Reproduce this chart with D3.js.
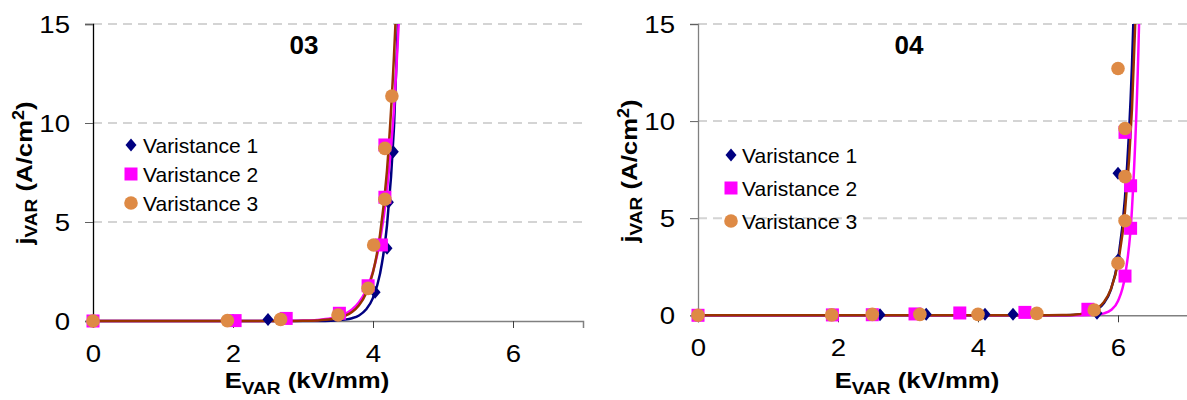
<!DOCTYPE html>
<html><head><meta charset="utf-8">
<script src="https://cdnjs.cloudflare.com/ajax/libs/d3/7.8.5/d3.min.js"></script>
<style>
html,body{margin:0;padding:0;background:#fff;}
svg{display:block;font-family:"Liberation Sans",Arial,sans-serif;}
</style></head>
<body>
<svg id="chart" width="1187" height="400"></svg>
<script>
// ---------- data ----------
const seriesNames = ["Varistance 1", "Varistance 2", "Varistance 3"];
const xTicks = [0, 2, 4, 6];
const yTicks = [0, 5, 10, 15];
const panelTitles = ["03", "04"];

// Panel 03 measured points
const e03_v1 = [0, 2.0, 2.50, 4.03, 4.20, 4.22, 4.29];
const j03_v1 = [0, 0.02, 0.08, 1.45, 3.67, 6.0, 8.55];
const e03_v2 = [0, 2.03, 2.76, 3.52, 3.93, 4.12, 4.17, 4.17];
const j03_v2 = [0, 0.02, 0.13, 0.39, 1.78, 3.84, 6.25, 8.89];
const e03_v3 = [0, 1.92, 2.68, 3.50, 3.93, 4.01, 4.17, 4.17, 4.27];
const j03_v3 = [0, 0.02, 0.08, 0.30, 1.65, 3.84, 6.15, 8.72, 11.36];

// Panel 03 trend curves
const fitE03_v1 = [0, 2.0, 3.0, 3.2, 3.4, 3.5, 3.6, 3.7, 3.8, 3.9, 4.0, 4.1, 4.2, 4.3, 4.38];
const fitJ03_v1 = [0, 0.0, 0.001, 0.004, 0.017, 0.034, 0.069, 0.14, 0.28, 0.58, 1.17, 2.38, 4.83, 9.8, 17.3];
const fitE03_v2 = [0, 2.0, 2.8, 3.0, 3.2, 3.4, 3.5, 3.6, 3.7, 3.8, 3.9, 4.0, 4.1, 4.2, 4.3, 4.4];
const fitJ03_v2 = [0, 0.0002, 0.0074, 0.0196, 0.052, 0.136, 0.22, 0.36, 0.58, 0.95, 1.54, 2.50, 4.05, 6.6, 10.7, 17.4];
const fitE03_v3 = [0, 2.0, 2.8, 3.0, 3.2, 3.4, 3.5, 3.6, 3.7, 3.8, 3.9, 4.0, 4.1, 4.2, 4.3, 4.34];
const fitJ03_v3 = [0, 0.001, 0.004, 0.009, 0.027, 0.083, 0.145, 0.26, 0.45, 0.79, 1.39, 2.46, 4.35, 7.6, 13.4, 16.5];

// Panel 04 measured points
const e04_v1 = [0, 2.6, 3.26, 4.10, 4.50, 5.70, 6.00, 6.00];
const j04_v1 = [0, 0.03, 0.05, 0.05, 0.05, 0.10, 2.85, 7.31];
const e04_v2 = [0, 1.92, 2.49, 3.10, 3.74, 4.67, 5.57, 6.10, 6.18, 6.18, 6.10];
const j04_v2 = [0, 0.02, 0.03, 0.07, 0.12, 0.15, 0.31, 2.02, 4.48, 6.67, 9.42];
const e04_v3 = [0, 1.91, 2.49, 3.17, 4.00, 4.84, 5.66, 6.00, 6.10, 6.10, 6.10, 6.00];
const j04_v3 = [0, 0.02, 0.05, 0.05, 0.05, 0.10, 0.27, 2.68, 4.87, 7.14, 9.62, 12.71];

// Panel 04 trend curves
const fitE04_v1 = [0, 4.5, 5.0, 5.2, 5.4, 5.5, 5.6, 5.7, 5.8, 5.9, 6.0, 6.1, 6.2, 6.24];
const fitJ04_v1 = [0, 0.0, 0.0015, 0.0068, 0.031, 0.065, 0.139, 0.295, 0.63, 1.34, 2.85, 6.06, 12.9, 17.4];
const fitE04_v2 = [0, 4.5, 5.0, 5.5, 5.6, 5.7, 5.8, 5.9, 6.0, 6.1, 6.2, 6.3, 6.32];
const fitJ04_v2 = [0, 0.0, 0.0, 0.005, 0.0136, 0.037, 0.10, 0.27, 0.74, 2.02, 5.49, 14.9, 18.2];
const fitE04_v3 = [0, 4.5, 5.0, 5.2, 5.4, 5.5, 5.6, 5.7, 5.8, 5.9, 6.0, 6.1, 6.2, 6.27];
const fitJ04_v3 = [0, 0.0001, 0.003, 0.011, 0.044, 0.087, 0.17, 0.345, 0.69, 1.36, 2.7, 5.36, 10.65, 17.3];

// ---------- styles ----------
const markerColors = ["#000080", "#FF00FF", "#DE8A45"];
const lineColors = ["#000080", "#FF00FF", "#993300"];
const FONT = '"Liberation Sans", Arial, sans-serif';

const zip = (a, b) => a.map((v, i) => [v, b[i]]);

const panels = [
  {
    title: panelTitles[0],
    xr: [93, 583], yr: [321, 24], yAxisColor: "#000",
    pts: [zip(e03_v1, j03_v1), zip(e03_v2, j03_v2), zip(e03_v3, j03_v3)],
    fits: [zip(fitE03_v1, fitJ03_v1), zip(fitE03_v2, fitJ03_v2), zip(fitE03_v3, fitJ03_v3)],
    titlePos: [304, 54], xTitle: [307, 388], yTitle: [32, 173],
    legend: { mx: 131, tx: 143, ys: [145, 174, 203] }
  },
  {
    title: panelTitles[1],
    xr: [698, 1188], yr: [315.3, 24], yAxisColor: "#808080",
    pts: [zip(e04_v1, j04_v1), zip(e04_v2, j04_v2), zip(e04_v3, j04_v3)],
    fits: [zip(fitE04_v1, fitJ04_v1), zip(fitE04_v2, fitJ04_v2), zip(fitE04_v3, fitJ04_v3)],
    titlePos: [909, 54], xTitle: [917, 388], yTitle: [637, 171],
    legend: { mx: 731, tx: 742, ys: [155, 188, 221] }
  }
];

const svg = d3.select("#chart");

function marker(g, type, cx, cy) {
  if (type === 0) {
    g.append("path").attr("d", `M${cx},${cy-6.5}L${cx+5.5},${cy}L${cx},${cy+6.5}L${cx-5.5},${cy}Z`).attr("fill", markerColors[0]);
  } else if (type === 1) {
    g.append("rect").attr("x", cx-6.5).attr("y", cy-6.5).attr("width", 13).attr("height", 13).attr("fill", markerColors[1]);
  } else {
    g.append("circle").attr("cx", cx).attr("cy", cy).attr("r", 6.8).attr("fill", markerColors[2]);
  }
}

panels.forEach((p, pi) => {
  const x = d3.scaleLinear().domain([0, 7]).range(p.xr);
  const y = d3.scaleLinear().domain([0, 15]).range(p.yr);
  const g = svg.append("g");

  const clipId = "clip" + pi;
  svg.append("clipPath").attr("id", clipId).append("rect")
    .attr("x", p.xr[0]).attr("y", p.yr[1]).attr("width", p.xr[1]-p.xr[0]).attr("height", p.yr[0]-p.yr[1]+4);

  // gridlines
  g.append("g").selectAll("line").data(yTicks.filter(t => t > 0)).join("line")
    .attr("x1", p.xr[0]).attr("x2", p.xr[1])
    .attr("y1", d => y(d)).attr("y2", d => y(d))
    .attr("stroke", "#D4D4D4").attr("stroke-width", 2).attr("stroke-dasharray", "9,6");

  // x axis
  const xa = g.append("g").attr("transform", `translate(0,${y(0)})`)
    .call(d3.axisBottom(x).tickValues(xTicks).tickSize(7).tickFormat(""));
  xa.select(".domain").attr("stroke", "#808080").attr("stroke-width", 1.5);
  xa.selectAll(".tick line").attr("stroke", "#404040");
  xa.selectAll(".tick").append("text")
    .attr("transform", "translate(0,41) scale(1.2,1)")
    .attr("text-anchor", "middle").attr("fill", "#000")
    .style("font-family", FONT).style("font-size", "23px")
    .text(d => d);

  // y axis
  const ya = g.append("g").attr("transform", `translate(${p.xr[0]},0)`)
    .call(d3.axisLeft(y).tickValues(yTicks).tickSize(8).tickFormat(""));
  ya.select(".domain").attr("stroke", p.yAxisColor).attr("stroke-width", 1.3);
  ya.selectAll(".tick line").attr("stroke", "#606060");
  ya.selectAll(".tick").append("text")
    .attr("transform", "translate(-23,8) scale(1.2,1)")
    .attr("text-anchor", "end").attr("fill", "#000")
    .style("font-family", FONT).style("font-size", "23px")
    .text(d => d);

  // trend curves
  const line = d3.line().x(d => x(d[0])).y(d => y(d[1])).curve(d3.curveMonotoneX);
  const lg = g.append("g").attr("clip-path", `url(#${clipId})`);
  p.fits.forEach((f, si) => {
    lg.append("path").attr("d", line(f)).attr("fill", "none")
      .attr("stroke", lineColors[si]).attr("stroke-width", 2.5);
  });

  // markers
  p.pts.forEach((pts, si) => {
    const mg = g.append("g");
    pts.forEach(d => marker(mg, si, x(d[0]), y(d[1])));
  });

  // panel title
  g.append("text").attr("x", p.titlePos[0]).attr("y", p.titlePos[1])
    .attr("text-anchor", "middle").style("font-family", FONT)
    .style("font-size", "26px").style("font-weight", "bold").text(p.title);

  // x title
  const xt = g.append("text").attr("transform", `translate(${p.xTitle[0]},${p.xTitle[1]}) scale(1.12,1)`)
    .attr("text-anchor", "middle").style("font-family", FONT)
    .style("font-size", "23px").style("font-weight", "bold");
  xt.append("tspan").text("E");
  xt.append("tspan").attr("dy", 6).style("font-size", "17px").text("VAR");
  xt.append("tspan").attr("dy", -6).text(" (kV/mm)");

  // y title
  const yt = g.append("text").attr("transform", `translate(${p.yTitle[0]},${p.yTitle[1]}) rotate(-90) scale(1.12,1)`)
    .attr("text-anchor", "middle").style("font-family", FONT)
    .style("font-size", "23px").style("font-weight", "bold");
  yt.append("tspan").text("j");
  yt.append("tspan").attr("dy", 5).style("font-size", "17px").text("VAR");
  yt.append("tspan").attr("dy", -5).text(" (A/cm");
  yt.append("tspan").attr("dy", -8).style("font-size", "16px").text("2");
  yt.append("tspan").attr("dy", 8).text(")");

  // legend
  const leg = g.append("g");
  seriesNames.forEach((name, si) => {
    const cy = p.legend.ys[si];
    marker(leg, si, p.legend.mx, cy);
    leg.append("text").attr("x", p.legend.tx).attr("y", cy + 7.5)
      .style("font-family", FONT).style("font-size", "21px").text(name);
  });
});
</script>
</body></html>
